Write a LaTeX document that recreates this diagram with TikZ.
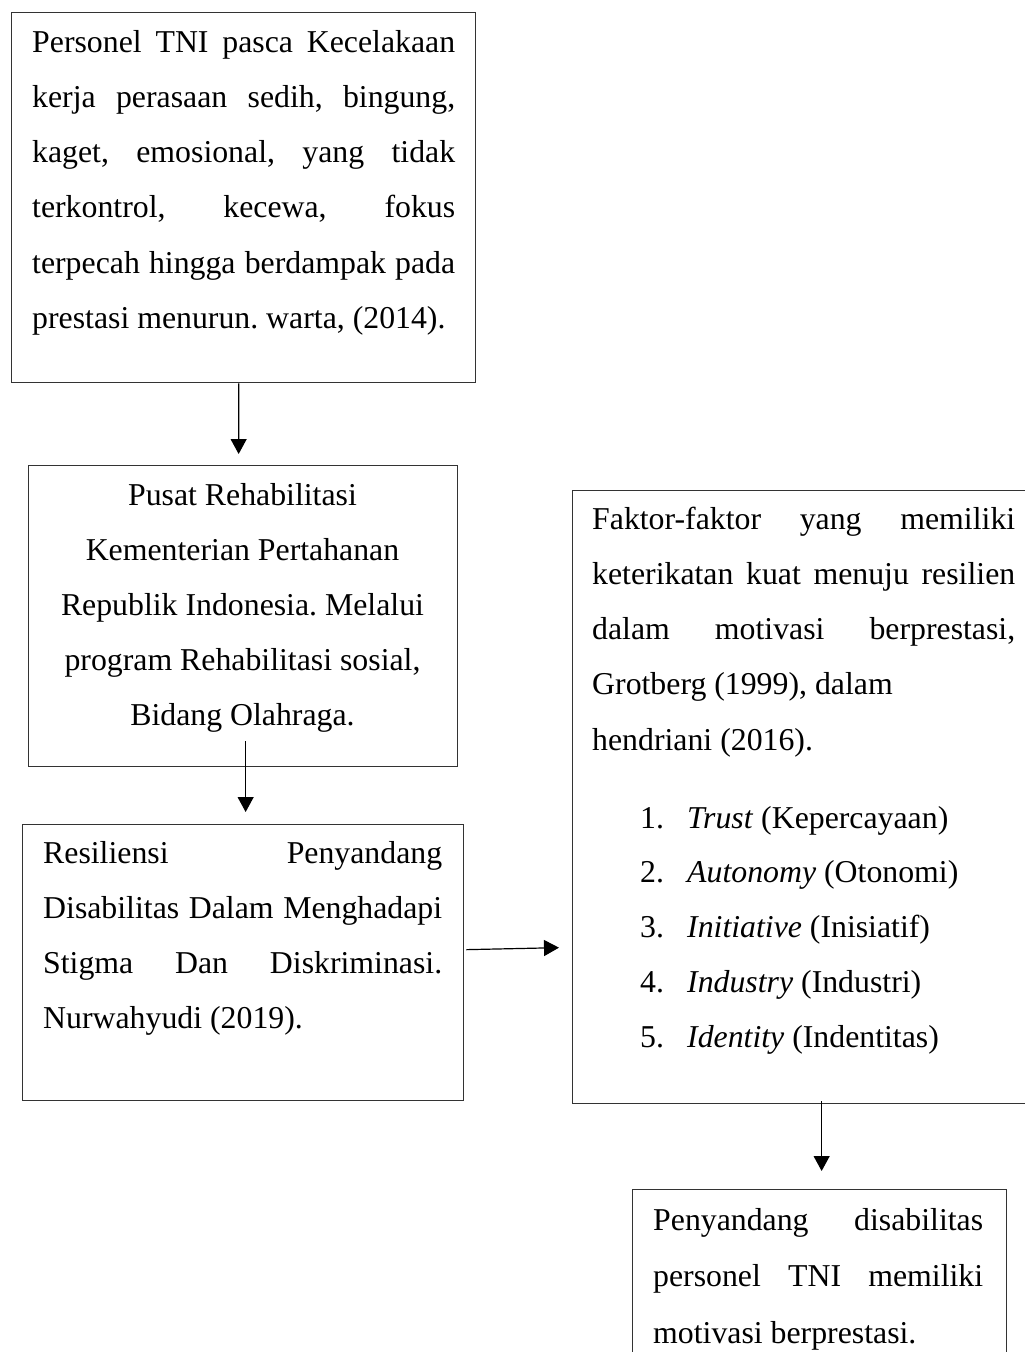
\documentclass[tikz,border=0pt]{standalone}
\usepackage{fontspec}
\setmainfont{Liberation Serif}
\usetikzlibrary{arrows.meta}
\newcommand\jline[1]{\makebox[\linewidth][s]{#1}}
\frenchspacing
\begin{document}
\begin{tikzpicture}[x=1pt,y=-1pt,
  boxframe/.style={draw=black!80,line width=1.3pt,anchor=north west,inner sep=0pt},
  txt/.style={inner sep=0pt,anchor=base west,font=\fontsize{31.8pt}{55.3pt}\selectfont\frenchspacing},
  arr/.style={line width=1.2pt,-{Triangle[length=15pt,width=16pt]}}]
\path[use as bounding box,fill=white] (0,0) rectangle (1025,1352);
\clip (0,0) rectangle (1025,1352);

% boxes
\node[boxframe,minimum width=464.3pt,minimum height=370pt] (b1) at (10.7,12) {};
\node[boxframe,minimum width=429pt,minimum height=301pt] (b2) at (28,465) {};
\node[boxframe,minimum width=441pt,minimum height=276pt] (b3) at (22,824) {};
\node[boxframe,minimum width=468pt,minimum height=613pt] (b4) at (572,490) {};
\node[boxframe,minimum width=374pt,minimum height=200pt] (b5) at (632,1189) {};

% texts
\node[txt] (t1) at (32,52) {\parbox[t]{423pt}{%
\jline{Personel TNI pasca Kecelakaan}\\
\jline{kerja perasaan sedih, bingung,}\\
\jline{kaget, emosional, yang tidak}\\
\jline{terkontrol, kecewa, fokus}\\
\jline{terpecah hingga berdampak pada}\\
prestasi menurun. warta, (2014).}};

\node[txt,anchor=base,font=\fontsize{31.8pt}{55pt}\selectfont\frenchspacing] (t2) at (242.5,505) {\parbox[t]{420pt}{\centering
Pusat Rehabilitasi\\
Kementerian Pertahanan\\
Republik Indonesia. Melalui\\
program Rehabilitasi sosial,\\
Bidang Olahraga.}};

\node[txt] (t3) at (43,863) {\parbox[t]{399pt}{%
\jline{Resiliensi Penyandang}\\
\jline{Disabilitas Dalam Menghadapi}\\
\jline{Stigma Dan Diskriminasi.}\\
Nurwahyudi (2019).}};

\node[txt,font=\fontsize{31.8pt}{55.25pt}\selectfont\frenchspacing] (t4) at (592,529) {\parbox[t]{423pt}{%
\jline{Faktor-faktor yang memiliki}\\
\jline{keterikatan kuat menuju resilien}\\
\jline{dalam motivasi berprestasi,}\\
Grotberg (1999), dalam\\
hendriani (2016).}};

\node[txt,font=\fontsize{31.8pt}{54.75pt}\selectfont\frenchspacing] (t4l) at (640,828) {\parbox[t]{380pt}{%
\makebox[47pt][l]{1.}\textit{Trust} (Kepercayaan)\\
\makebox[47pt][l]{2.}\textit{Autonomy} (Otonomi)\\
\makebox[47pt][l]{3.}\textit{Initiative} (Inisiatif)\\
\makebox[47pt][l]{4.}\textit{Industry} (Industri)\\
\makebox[47pt][l]{5.}\textit{Identity} (Indentitas)}};

\node[txt,font=\fontsize{31.8pt}{56.5pt}\selectfont\frenchspacing] (t5) at (653,1230) {\parbox[t]{330pt}{%
\jline{Penyandang disabilitas}\\
\jline{personel TNI memiliki}\\
motivasi berprestasi.}};

% connectors
\draw[arr] ([xshift=-4.85pt]b1.south) -- ([xshift=-4.5pt,yshift=11pt]b2.north);
\draw[arr] ([xshift=2.5pt,yshift=26pt]b2.south) -- ([xshift=2.5pt,yshift=12pt]b3.north);
\draw[arr] ([xshift=2pt,yshift=13pt]b3.east) -- ([xshift=-13pt,yshift=-150.5pt]b4.west);
\draw[arr] ([xshift=15pt,yshift=3pt]b4.south) -- ([xshift=2pt,yshift=18pt]b5.north);
\end{tikzpicture}
\end{document}
